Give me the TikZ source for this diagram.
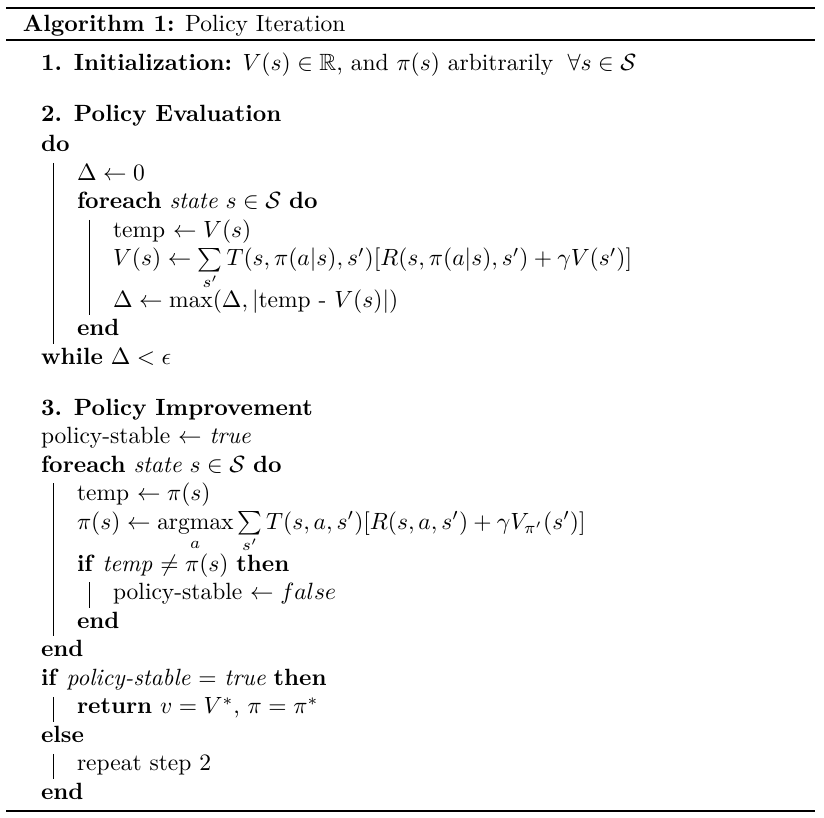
\documentclass[tikz,border=0pt]{standalone}
\usepackage{amsmath,amssymb}
\begin{document}
\begin{tikzpicture}[x=0.4255pt,y=-0.4255pt,
  ln/.style={anchor=base west,inner sep=0pt,outer sep=0pt},
  vbar/.style={line width=0.4pt},
  heavyrule/.style={line width=0.8pt},
  lightrule/.style={line width=0.6pt}]
\useasboundingbox (0,0) rectangle (824,818);
% rules
\coordinate (r1a) at (6,8);   \coordinate (r1b) at (815,8);
\coordinate (r2a) at (6,40);  \coordinate (r2b) at (815,40);
\coordinate (r3a) at (6,811); \coordinate (r3b) at (815,811);
\draw[heavyrule] (r1a) -- (r1b);
\draw[lightrule] (r2a) -- (r2b);
\draw[heavyrule] (r3a) -- (r3b);
% caption
\node[ln] (cap) at (23,31.5) {\textbf{Algorithm 1:} Policy Iteration};
% step 1
\node[ln] (init) at (41,70.5) {\textbf{1. Initialization:} $V(s)\in\mathbb{R}$, and $\pi(s)$ arbitrarily $\;\forall s\in\mathcal{S}$};
% step 2
\node[ln] (pe) at (41,121.5) {\textbf{2. Policy Evaluation}};
\node[ln] (do) at (41,151.5) {\textbf{do}};
\node[ln] (d0) at (77,180.5) {$\Delta\leftarrow 0$};
\node[ln] (fe1) at (77,209) {\textbf{foreach} \textit{state} $s\in\mathcal{S}$ \textbf{do}};
\node[ln] (tmp1) at (113,237.5) {temp $\leftarrow V(s)$};
\node[ln] (vs) at (113,266) {$V(s)\leftarrow \sum\limits_{s'} T(s,\pi(a|s),s')[R(s,\pi(a|s),s')+\gamma V(s')]$};
\node[ln] (dmax) at (113,307.5) {$\Delta\leftarrow \max(\Delta,|$temp - $V(s)|)$};
\node[ln] (end1) at (77,336) {\textbf{end}};
\node[ln] (wh) at (41,364.5) {\textbf{while} $\Delta<\epsilon$};
% step 3
\node[ln] (pi) at (41,415.5) {\textbf{3. Policy Improvement}};
\node[ln] (ps) at (41,444) {policy-stable $\leftarrow$ \textit{true}};
\node[ln] (fe2) at (41,472.5) {\textbf{foreach} \textit{state} $s\in\mathcal{S}$ \textbf{do}};
\node[ln] (tmp2) at (77,501) {temp $\leftarrow \pi(s)$};
\node[ln] (am) at (77,529.5) {$\pi(s)\leftarrow \mathop{\mathrm{argmax}}\limits_{a} \sum\limits_{s'} T(s,a,s')[R(s,a,s')+\gamma V_{\pi'}(s')]$};
\node[ln] (if1) at (77,571.5) {\textbf{if} \textit{temp} $\neq\pi(s)$ \textbf{then}};
\node[ln] (psf) at (113,600) {policy-stable $\leftarrow false$};
\node[ln] (end2) at (77,628.5) {\textbf{end}};
\node[ln] (end3) at (41,657) {\textbf{end}};
\node[ln] (if2) at (41,685.5) {\textbf{if} \textit{policy-stable} $=$ \textit{true} \textbf{then}};
\node[ln] (ret) at (77,714) {\textbf{return} $v=V^{*}$, $\pi=\pi^{*}$};
\node[ln] (els) at (41,742.5) {\textbf{else}};
\node[ln] (rep) at (77,771) {repeat step 2};
\node[ln] (end4) at (41,799.5) {\textbf{end}};
% block bars
\coordinate (b1t) at (53,163);   \coordinate (b1b) at (53,344);
\coordinate (b2t) at (89,220);   \coordinate (b2b) at (89,315.5);
\coordinate (b3t) at (53,483.5); \coordinate (b3b) at (53,636.5);
\coordinate (b4t) at (89,582.5); \coordinate (b4b) at (89,608);
\coordinate (b5t) at (53,697);   \coordinate (b5b) at (53,722.5);
\coordinate (b6t) at (53,754);   \coordinate (b6b) at (53,779.5);
\draw[vbar] (b1t) -- (b1b);
\draw[vbar] (b2t) -- (b2b);
\draw[vbar] (b3t) -- (b3b);
\draw[vbar] (b4t) -- (b4b);
\draw[vbar] (b5t) -- (b5b);
\draw[vbar] (b6t) -- (b6b);
\end{tikzpicture}
\end{document}
